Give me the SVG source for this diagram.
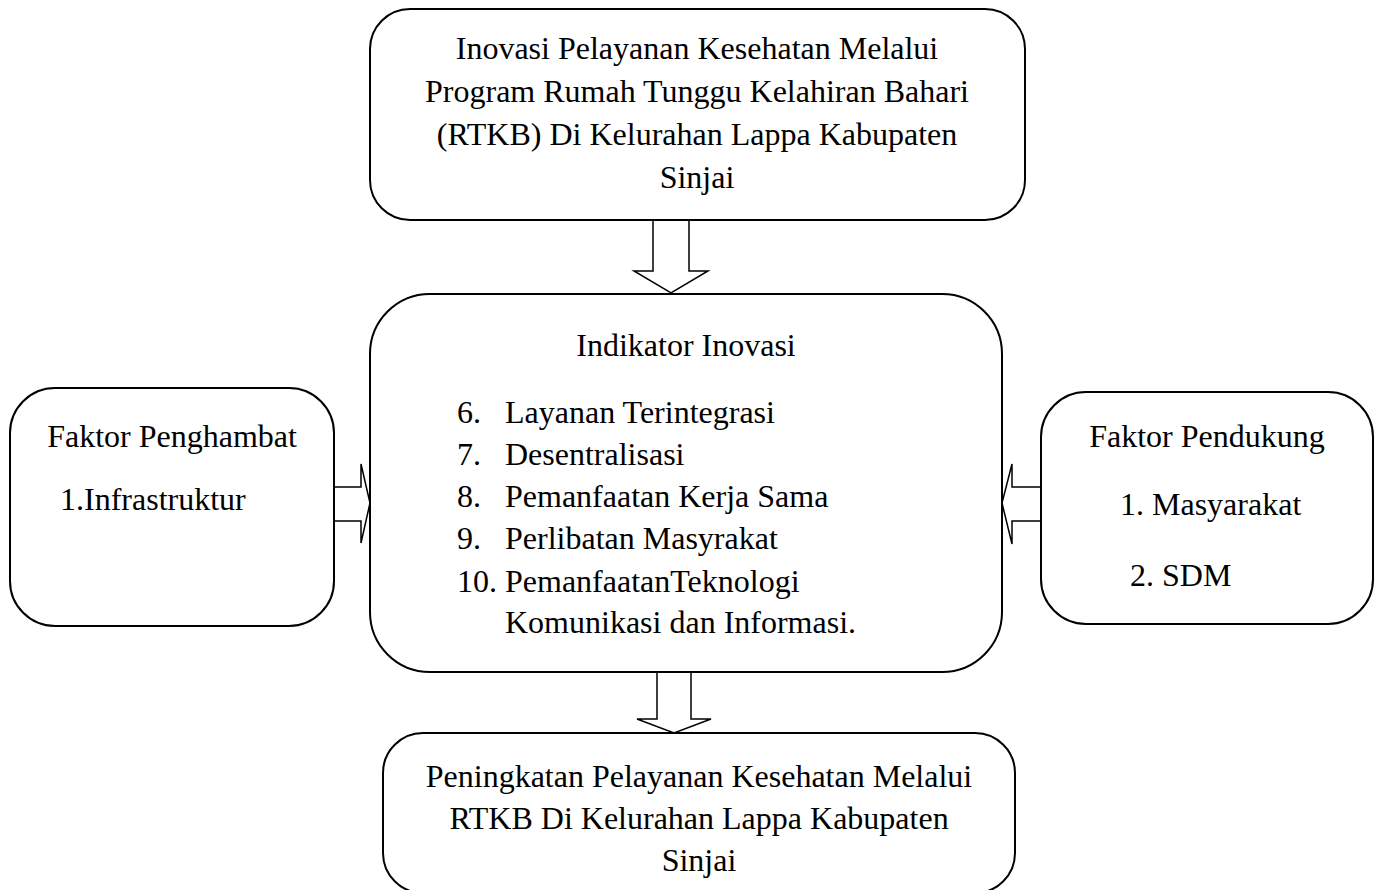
<svg xmlns="http://www.w3.org/2000/svg" width="1383" height="890" viewBox="0 0 1383 890">
<style>
.box{fill:#fff;stroke:#000;stroke-width:2}
.arr{fill:#fff;stroke:#000;stroke-width:1.5;stroke-linejoin:miter}
text{font-family:"Liberation Serif","Times New Roman",serif;font-size:32px;fill:#000}
.c{text-anchor:middle}
</style>
<rect width="1383" height="890" fill="#fff"/>
<g id="connectors">
<polygon class="arr" points="653,220 689,220 689,271 708,271 671,293 634,271 653,271"/>
<polygon class="arr" points="657,672 691,672 691,719 711,719 674,733 637,719 657,719"/>
<polygon class="arr" points="334,487 361,487 361,464 370,503 361,543 361,521 334,521"/>
<polygon class="arr" points="1041,487 1012,487 1012,464 1002,503 1012,544 1012,521 1041,521"/>
</g>
<g id="top">
<rect class="box" x="370" y="9" width="655" height="211" rx="40" ry="40"/>
<text class="c" x="697" y="59">Inovasi Pelayanan Kesehatan Melalui</text>
<text class="c" x="697" y="102">Program Rumah Tunggu Kelahiran Bahari</text>
<text class="c" x="697" y="145">(RTKB) Di Kelurahan Lappa Kabupaten</text>
<text class="c" x="697" y="188">Sinjai</text>
</g>
<g id="middle">
<rect class="box" x="370" y="294" width="632" height="378" rx="60" ry="60"/>
<text class="c" x="686" y="356">Indikator Inovasi</text>
<text x="457" y="423">6.</text><text x="505" y="423">Layanan Terintegrasi</text>
<text x="457" y="465">7.</text><text x="505" y="465">Desentralisasi</text>
<text x="457" y="507">8.</text><text x="505" y="507">Pemanfaatan Kerja Sama</text>
<text x="457" y="549">9.</text><text x="505" y="549">Perlibatan Masyrakat</text>
<text x="457" y="592">10.</text><text x="505" y="592">PemanfaatanTeknologi</text>
<text x="505" y="633">Komunikasi dan Informasi.</text>
</g>
<g id="left">
<rect class="box" x="10" y="388" width="324" height="238" rx="45" ry="45"/>
<text class="c" x="172" y="447">Faktor Penghambat</text>
<text x="60" y="510">1.Infrastruktur</text>
</g>
<g id="right">
<rect class="box" x="1041" y="392" width="332" height="232" rx="45" ry="45"/>
<text class="c" x="1207" y="447">Faktor Pendukung</text>
<text x="1120" y="515">1. Masyarakat</text>
<text x="1130" y="586">2. SDM</text>
</g>
<g id="bottom">
<rect class="box" x="383" y="733" width="632" height="160" rx="40" ry="40"/>
<text class="c" x="699" y="787">Peningkatan Pelayanan Kesehatan Melalui</text>
<text class="c" x="699" y="829">RTKB Di Kelurahan Lappa Kabupaten</text>
<text class="c" x="699" y="871">Sinjai</text>
</g>
</svg>
